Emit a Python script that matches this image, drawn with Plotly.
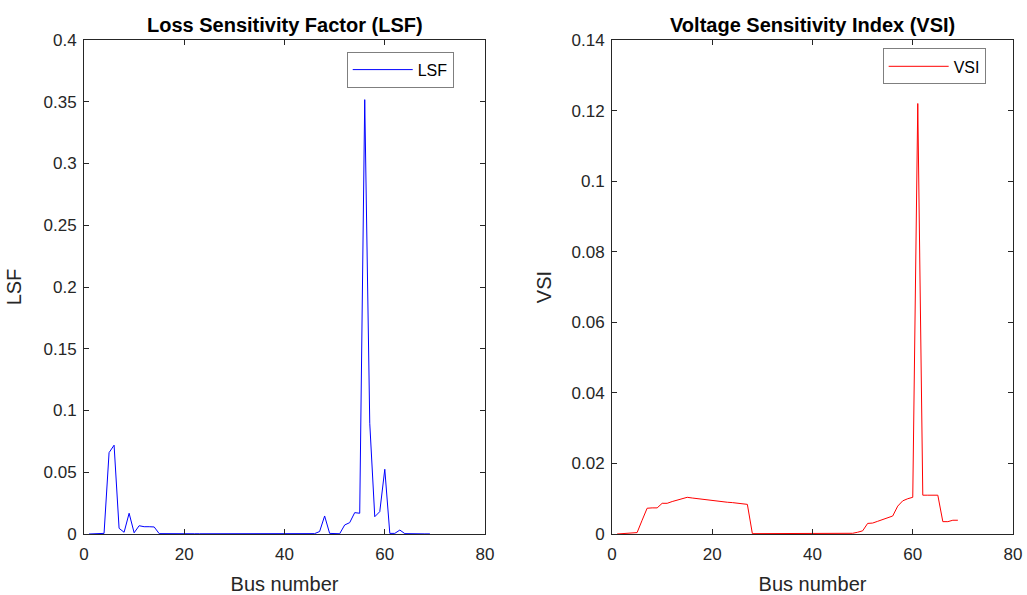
import plotly.graph_objects as go

bus = list(range(1, 70))

lsf = [0, 0, 0.0002, 0.0005, 0.0659, 0.0719, 0.0046, 0.0014, 0.0168, 0.001,
       0.0067, 0.0059, 0.0059, 0.0057, 0.0003, 0.0002, 0.0002, 0.0002, 0.0002, 0.0002,
       0.0002, 0.0002, 0.0002, 0.0002, 0.0002, 0.0002, 0.0002, 0.0001, 0.0001, 0.0001,
       0.0001, 0.0001, 0.0001, 0.0001, 0.0001, 0.0001, 0.0001, 0.0001, 0.0002, 0.0004,
       0.0002, 0.0002, 0.0002, 0.0002, 0.0002, 0.0003, 0.002, 0.0146, 0.0005, 0.0002,
       0.0002, 0.0073, 0.0092, 0.0173, 0.0168, 0.3517, 0.0897, 0.014, 0.0181, 0.0524,
       0.0005, 0.0005, 0.0032, 0.0003, 0.0001, 0.0001, 0.0001, 0.0001, 0.0001]

vsi = [0, 0.0001, 0.0001, 0.0002, 0.0004, 0.0039, 0.0073, 0.0074, 0.0074, 0.0087,
       0.0087, 0.0092, 0.0096, 0.0100, 0.0104, 0.0102, 0.0100, 0.0099, 0.0097, 0.0095,
       0.0094, 0.0092, 0.0090, 0.0089, 0.0087, 0.0085, 0.0084, 0.0001, 0.0001, 0.0001,
       0.0001, 0.0001, 0.0001, 0.0001, 0.0001, 0.0001, 0.0001, 0.0001, 0.0001, 0.0001,
       0.0002, 0.0002, 0.0002, 0.0002, 0.0002, 0.0002, 0.0002, 0.0002, 0.0005, 0.0009,
       0.0030, 0.0031, 0.0036, 0.0041, 0.0046, 0.0051, 0.0079, 0.0094, 0.0100, 0.0104,
       0.1220, 0.0110, 0.0110, 0.0110, 0.0110, 0.0035, 0.0035, 0.0039, 0.0039]

titles = ["Loss Sensitivity Factor (LSF)", "Voltage Sensitivity Index (VSI)"]
x_label = "Bus number"
y_labels = ["LSF", "VSI"]

AX = "#262626"
FONT = "Liberation Sans, Arial, sans-serif"

fig = go.Figure()
fig.add_trace(go.Scatter(x=bus, y=lsf, mode="lines", name="LSF", showlegend=True,
                         line=dict(color="#0000ff", width=1),
                         xaxis="x", yaxis="y", legend="legend"))
fig.add_trace(go.Scatter(x=bus, y=vsi, mode="lines", name="VSI", showlegend=True,
                         line=dict(color="#ff0000", width=1),
                         xaxis="x2", yaxis="y2", legend="legend2"))

axis_common = dict(showgrid=False, zeroline=False, showline=True, linecolor=AX,
                   linewidth=1, mirror="ticks", ticks="inside", ticklen=5,
                   automargin=False,
                   tickcolor=AX, tickfont=dict(family=FONT, size=17, color=AX))
xt = dict(text=x_label, font=dict(size=20, family=FONT, color=AX), standoff=24)

fig.update_layout(
    width=1027, height=595,
    margin=dict(l=84, r=14, t=40, b=61, autoexpand=False),
    paper_bgcolor="white", plot_bgcolor="white",
    font=dict(family=FONT, color=AX),
    showlegend=True,
    xaxis=dict(domain=[0, 0.4317], range=[0, 80], dtick=20, anchor="y",
               ticklabelstandoff=5, title=xt, **axis_common),
    yaxis=dict(domain=[0, 1], range=[0, 0.4], dtick=0.05, anchor="x",
               ticklabelstandoff=3,
               title=dict(text=y_labels[0], font=dict(size=20, family=FONT, color=AX), standoff=16),
               **axis_common),
    xaxis2=dict(domain=[0.5684, 1], range=[0, 80], dtick=20, anchor="y2",
                ticklabelstandoff=5, title=xt, **axis_common),
    yaxis2=dict(domain=[0, 1], range=[0, 0.14], dtick=0.02, anchor="x2",
                ticklabelstandoff=3,
                title=dict(text=y_labels[1], font=dict(size=20, family=FONT, color=AX), standoff=14),
                **axis_common),
    legend=dict(x=0.2828, y=0.9763, xanchor="left", yanchor="top",
                bgcolor="white", bordercolor="#7f7f7f", borderwidth=1,
                font=dict(family=FONT, size=16, color="black"), itemwidth=60),
    legend2=dict(x=0.8597, y=0.983, xanchor="left", yanchor="top",
                 bgcolor="white", bordercolor="#7f7f7f", borderwidth=1,
                 font=dict(family=FONT, size=16, color="black"), itemwidth=60),
    annotations=[
        dict(text="<b>" + titles[0] + "</b>", xref="x domain", yref="paper",
             x=0.5, y=1 + 15 / 494, xanchor="center", yanchor="middle", showarrow=False,
             font=dict(family=FONT, size=20, color="black")),
        dict(text="<b>" + titles[1] + "</b>", xref="x2 domain", yref="paper",
             x=0.5, y=1 + 15 / 494, xanchor="center", yanchor="middle", showarrow=False,
             font=dict(family=FONT, size=20, color="black")),
    ],
)

fig.write_html("out.html", config={"displayModeBar": False},
               post_script="document.body.style.margin='0';")
